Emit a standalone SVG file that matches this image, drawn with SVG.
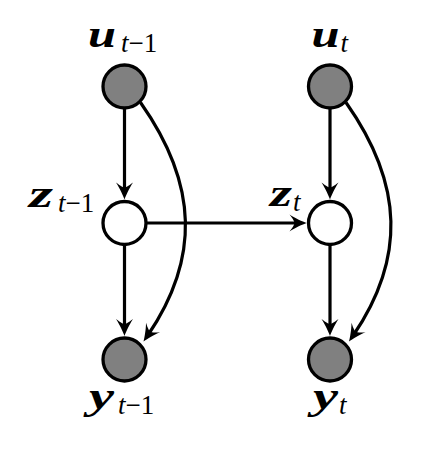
<svg xmlns="http://www.w3.org/2000/svg" width="440" height="454" viewBox="0 0 440 454">
<style>
.obs{fill:#808080;stroke:#000;stroke-width:3.3}
.lat{fill:#fff;stroke:#000;stroke-width:3.3}
.edge{fill:none;stroke:#000;stroke-width:3.2}
.m{font-family:'Liberation Serif','DejaVu Serif',serif;font-weight:bold;font-style:italic;font-size:37px;fill:#000}
.s{font-family:'Liberation Serif','DejaVu Serif',serif;font-size:27px;fill:#000}
.i{font-style:italic}
</style>
<defs>
<marker id="arr" markerUnits="userSpaceOnUse" markerWidth="30" markerHeight="30" refX="0" refY="0" orient="auto" overflow="visible" viewBox="-20 -15 30 30">
<path d="M8,0 C4,-1.5 -3,-4.5 -9,-8.5 C-5,-3.5 -4,-1 -4,0 C-4,1 -5,3.5 -9,8.5 C-3,4.5 4,1.5 8,0 Z" fill="#000"/>
</marker>
</defs>
<g id="connectors">
<path class="edge" d="M124.5,108 L124.5,191.5" marker-end="url(#arr)"/>
<path class="edge" d="M124.5,244.5 L124.5,328" marker-end="url(#arr)"/>
<path class="edge" d="M330,108 L330,191.5" marker-end="url(#arr)"/>
<path class="edge" d="M330,244.5 L330,328" marker-end="url(#arr)"/>
<path class="edge" d="M146,223 L298.5,223" marker-end="url(#arr)"/>
<path class="edge" d="M140.5,102.5 C198.7,185 199.5,259 148,335" marker-end="url(#arr)"/>
<path class="edge" d="M346,102.5 C404.2,185 405,259 353.5,335" marker-end="url(#arr)"/>
</g>
<g id="u_prev">
<circle class="obs" cx="124.5" cy="86.5" r="21.5"/>
<text class="m" x="88" y="47" textLength="28" lengthAdjust="spacingAndGlyphs">u</text>
<text class="s" x="121" y="52"><tspan class="i">t</tspan>−1</text>
</g>
<g id="z_prev">
<circle class="lat" cx="124.5" cy="223" r="21.5"/>
<text class="m" x="29" y="207" textLength="24" lengthAdjust="spacingAndGlyphs">z</text>
<text class="s" x="58" y="212"><tspan class="i">t</tspan>−1</text>
</g>
<g id="y_prev">
<circle class="obs" cx="124.5" cy="359.5" r="21.5"/>
<text class="m" x="89" y="409" textLength="25" lengthAdjust="spacingAndGlyphs">y</text>
<text class="s" x="118" y="414"><tspan class="i">t</tspan>−1</text>
</g>
<g id="u_t">
<circle class="obs" cx="330" cy="86.5" r="21.5"/>
<text class="m" x="311.5" y="47" textLength="28" lengthAdjust="spacingAndGlyphs">u</text>
<text class="s i" x="340.5" y="52">t</text>
</g>
<g id="z_t">
<circle class="lat" cx="330" cy="223" r="21.5"/>
<text class="m" x="270" y="206" textLength="22" lengthAdjust="spacingAndGlyphs">z</text>
<text class="s i" x="293" y="211">t</text>
</g>
<g id="y_t">
<circle class="obs" cx="330" cy="359.5" r="21.5"/>
<text class="m" x="313" y="409" textLength="25" lengthAdjust="spacingAndGlyphs">y</text>
<text class="s i" x="339" y="414">t</text>
</g>
</svg>
